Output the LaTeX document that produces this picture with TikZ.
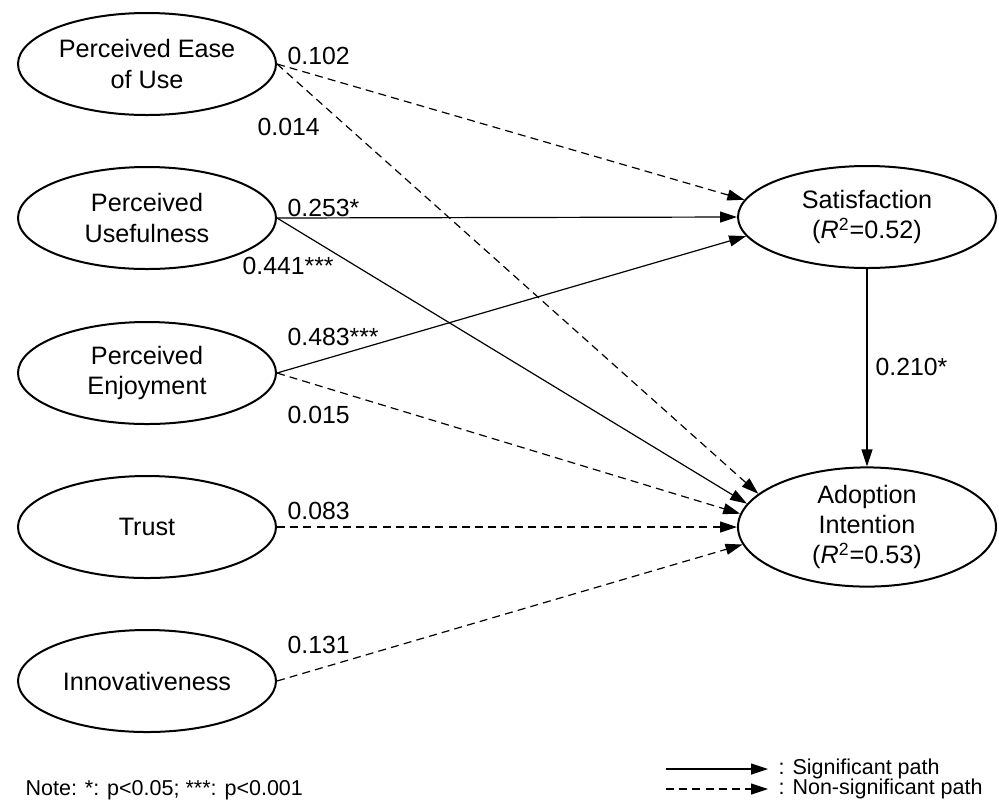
\documentclass[tikz,border=0pt]{standalone}
\usepackage{fontspec}
\setmainfont{Liberation Sans}
\usetikzlibrary{arrows.meta,shapes.geometric}
\tikzset{
  >={Triangle[length=8.5pt,width=5.5pt]},
  lv/.style={ellipse,draw,line width=1pt,minimum width=129pt,minimum height=51pt,inner sep=0pt,align=center,font=\fontsize{12.6}{15.2}\selectfont},
  coef/.style={anchor=west,inner sep=0pt,font=\fontsize{12.4}{14}\selectfont},
  sg/.style={->},
  ns/.style={->,dash pattern=on 4pt off 2.6pt},
  small/.style={anchor=west,inner sep=0pt,font=\fontsize{10.75}{13}\selectfont},
  every picture/.style={line width=0.6pt},
}
\begin{document}
\begin{tikzpicture}[x=0.5pt,y=-0.5pt]
\useasboundingbox (0,0) rectangle (999,804);
\node[lv] (peou) at (147,64){Perceived Ease\\of Use};
\node[lv] (pu) at (147,218){Perceived\\Usefulness};
\node[lv] (pe) at (147,373){Perceived\\Enjoyment};
\node[lv] (tr) at (147,527){Trust};
\node[lv] (inn) at (147,681){Innovativeness};
\node[lv] (sat) at (867,217){Satisfaction\\(\textit{R}\textsuperscript{2}=0.52)};
\node[lv] (ai) at (867,527){Adoption\\Intention\\(\textit{R}\textsuperscript{2}=0.53)};
% paths
\draw[ns] (peou.east)--(sat.172); \draw[ns] (peou.east)--(ai.163);
\draw[sg] (pu.east)--(sat.west); \draw[sg] (pu.east)--(ai.169);
\draw[sg] (pe.east)--(sat.189); \draw[ns] (pe.east)--(ai.174);
\draw[ns] (tr.east)--(ai.west); \draw[ns] (inn.east)--(ai.188);
\draw[sg] (sat)--(ai);
% coefficients
\node[coef] (c1) at (287,56){0.102}; \node[coef] (c2) at (257,127){0.014};
\node[coef] (c3) at (287,208){0.253*}; \node[coef] (c4) at (242,266){0.441***};
\node[coef] (c5) at (287,337){0.483***}; \node[coef] (c6) at (287,415){0.015};
\node[coef] (c7) at (287,511){0.083}; \node[coef] (c8) at (287,645){0.131};
\node[coef] (c9) at (875,367){0.210*};
% legend
\coordinate (l1) at (666,769); \coordinate (l2) at (768,769);
\coordinate (l3) at (666,789); \coordinate (l4) at (768,789);
\draw[sg] (l1)--(l2); \draw[ns] (l3)--(l4);
\node[small] (t1) at (778,769){: Significant path};
\node[small] (t2) at (778,789){: Non-significant path};
\node[small] (note) at (25,790){Note: *: p<0.05; ***: p<0.001};
\end{tikzpicture}
\end{document}
